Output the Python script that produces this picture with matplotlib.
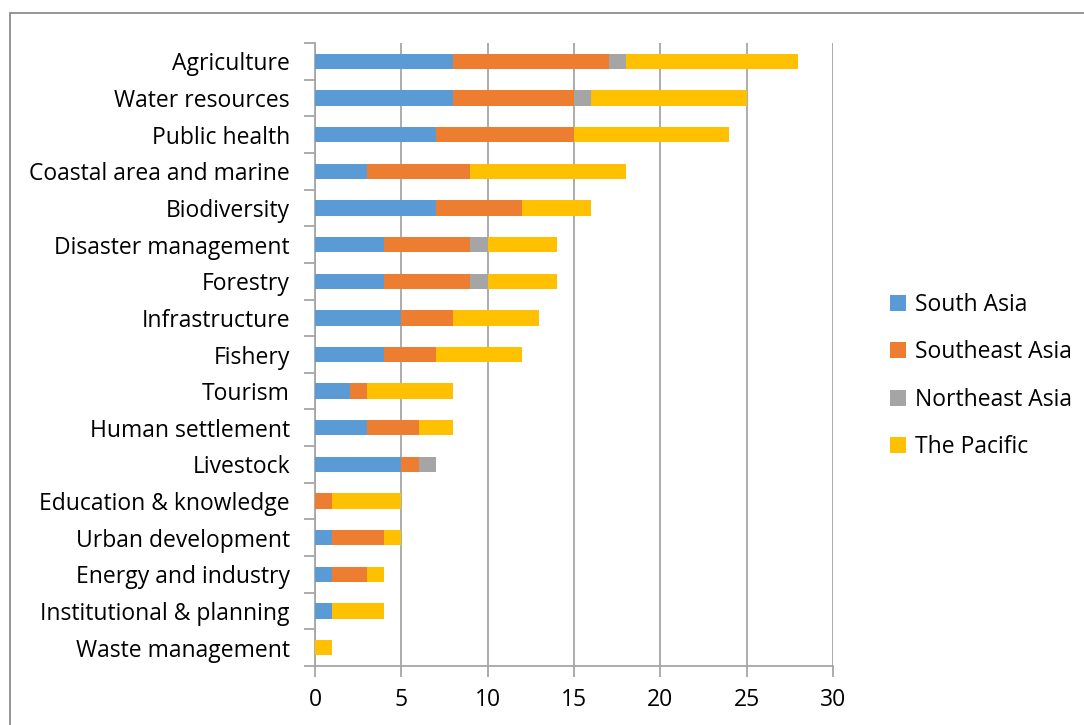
import matplotlib
matplotlib.use('Agg')
import matplotlib.pyplot as plt
from matplotlib.patches import Rectangle
import numpy as np

# Adaptation sectors, top to bottom
sectors = ['Agriculture', 'Water resources', 'Public health',
           'Coastal area and marine', 'Biodiversity', 'Disaster management',
           'Forestry', 'Infrastructure', 'Fishery', 'Tourism',
           'Human settlement', 'Livestock', 'Education & knowledge',
           'Urban development', 'Energy and industry',
           'Institutional & planning', 'Waste management']

south_asia     = [8, 8, 7, 3, 7, 4, 4, 5, 4, 2, 3, 5, 0, 1, 1, 1, 0]
southeast_asia = [9, 7, 8, 6, 5, 5, 5, 3, 3, 1, 3, 1, 1, 3, 2, 0, 0]
northeast_asia = [1, 1, 0, 0, 0, 1, 1, 0, 0, 0, 0, 1, 0, 0, 0, 0, 0]
pacific        = [10, 9, 9, 9, 4, 4, 4, 5, 5, 5, 2, 0, 4, 1, 1, 3, 1]

series = [('South Asia', south_asia, '#5B9BD5'),
          ('Southeast Asia', southeast_asia, '#ED7D31'),
          ('Northeast Asia', northeast_asia, '#A5A5A5'),
          ('The Pacific', pacific, '#FFC000')]

x_ticks = [0, 5, 10, 15, 20, 25, 30]

plt.rcParams['font.family'] = ['Open Sans', 'DejaVu Sans']
GRID = '#A6A6A6'
FS = 16.5

fig = plt.figure(figsize=(10.84, 7.25), dpi=100)
ax = fig.add_axes([315 / 1084, 1 - 666 / 725, 518 / 1084, 623 / 725])

# outer chart frame (runs off the right and bottom edges)
fig.patches.append(Rectangle((10 / 1084, -0.05), 1.2, 1 - 13 / 725 + 0.05,
                             transform=fig.transFigure, fill=False,
                             edgecolor='#8C8C8C', linewidth=1.3, zorder=0))

y = np.arange(len(sectors))
left = np.zeros(len(sectors))
for name, vals, color in series:
    vals = np.array(vals, dtype=float)
    ax.barh(y, vals, left=left, height=0.42, color=color, label=name,
            zorder=3)
    left += vals

ax.set_ylim(len(sectors) - 0.5, -0.5)
ax.set_xlim(0, 30)
ax.set_xticks(x_ticks)
ax.set_yticks(y)
ax.set_yticklabels(sectors, fontsize=FS)
ax.tick_params(axis='y', length=0, pad=18)
ax.tick_params(axis='x', labelsize=FS, length=8, width=1.3, color=GRID,
               pad=8)
# category separators on the value axis
ax.set_yticks(np.arange(len(sectors) + 1) - 0.5, minor=True)
ax.tick_params(axis='y', which='minor', length=8, width=1.3, color=GRID)

ax.grid(axis='x', color=GRID, linewidth=1.3, zorder=0)
for side in ['top', 'right']:
    ax.spines[side].set_visible(False)
for side in ['left', 'bottom']:
    ax.spines[side].set_color(GRID)
    ax.spines[side].set_linewidth(1.3)

ax.legend(loc='center left', bbox_to_anchor=(881 / 1084, 349 / 725),
          bbox_transform=fig.transFigure, frameon=False, fontsize=FS,
          handlelength=0.7, handleheight=0.7, handletextpad=0.4,
          labelspacing=1.02, borderaxespad=0)

fig.savefig('out.png', dpi=100)
